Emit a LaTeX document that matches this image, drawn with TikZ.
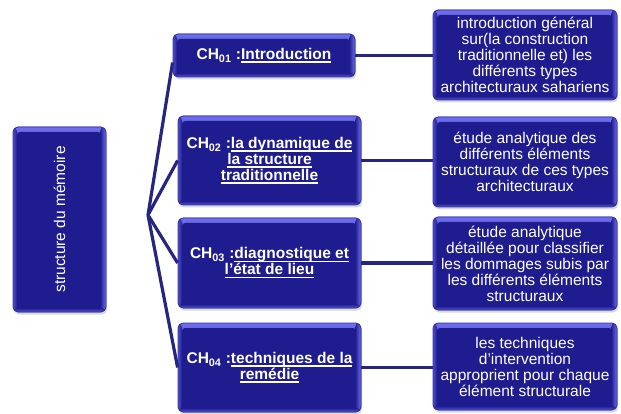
\documentclass[tikz,border=0pt]{standalone}
\usepackage{fontspec}
\setmainfont{Liberation Sans}
\usepackage{graphicx}
\usetikzlibrary{calc}
\definecolor{boxmid}{RGB}{30,28,142}
\definecolor{boxlight}{RGB}{110,110,236}
\definecolor{boxrim}{RGB}{50,50,170}
\definecolor{linecol}{RGB}{38,38,128}
\newcommand\uln[1]{\setbox0\hbox{#1}\rlap{\rule[-3.4pt]{\wd0}{1.6pt}}\box0}
\newcommand\chap[1]{CH\textsubscript{#1}}
\newcommand\txtsize{\fontsize{15.5}{16}\selectfont}
\tikzset{
  glossy/.style={rounded corners=5pt, fill=boxmid, draw=boxrim, line width=0.8pt,
    text=white, inner sep=0pt, align=center, font=\txtsize,
    preaction={fill=black!60, opacity=0.25, transform canvas={xshift=1.2pt,yshift=-2.5pt}},
    path picture={
      \fill[top color=boxlight, bottom color=boxmid]
        (path picture bounding box.north west) rectangle ([yshift=-10pt]path picture bounding box.north east);
      \fill[left color=boxmid, right color=boxlight]
        ([xshift=-6pt]path picture bounding box.north east) rectangle (path picture bounding box.south east);
      \fill[left color=boxlight!60!boxmid, right color=boxmid]
        (path picture bounding box.north west) rectangle ([xshift=4pt]path picture bounding box.south west);
      \fill[top color=boxmid, bottom color=boxlight!70!boxmid]
        ([yshift=4pt]path picture bounding box.south west) rectangle (path picture bounding box.south east);
      \fill[boxmid, rounded corners=3pt]
        ([shift={(4pt,-5pt)}]path picture bounding box.north west) rectangle ([shift={(-5pt,4pt)}]path picture bounding box.south east);
    }},
  chbox/.style={glossy, font=\txtsize\bfseries},
  conn/.style={draw=linecol, line width=3.2pt},
}
\begin{document}
\begin{tikzpicture}[x=1pt, y=-1pt]
\useasboundingbox (0,0) rectangle (621,414);

\node[glossy, minimum width=93pt, minimum height=185pt] (L) at (59.5,219.5) {\rotatebox{90}{structure du mémoire}};

\node[chbox, minimum width=182pt, minimum height=43pt] (c1) at (264,55.5) {\chap{01} :\uln{Introduction}};
\node[chbox, minimum width=183pt, minimum height=89pt] (c2) at (269.5,160.5) {\chap{02} :\uln{la dynamique de}\\\uln{la structure}\\\uln{traditionnelle}};
\node[chbox, minimum width=183pt, minimum height=90pt] (c3) at (269.5,263) {\chap{03} :\uln{diagnostique et}\\\uln{l’état de lieu}};
\node[chbox, minimum width=183pt, minimum height=89pt] (c4) at (269.5,367.5) {\chap{04} :\uln{techniques de la}\\\uln{remédie}};

\node[glossy, minimum width=184pt, minimum height=90pt] (r1) at (525,55) {introduction général\\sur(la construction\\traditionnelle et) les\\différents types\\architecturaux sahariens};
\node[glossy, minimum width=184pt, minimum height=90pt] (r2) at (525,162) {étude analytique des\\différents éléments\\structuraux de ces types\\architecturaux};
\node[glossy, minimum width=184pt, minimum height=93pt] (r3) at (525,263.5) {étude analytique\\détaillée pour classifier\\les dommages subis par\\les différents éléments\\structuraux};
\node[glossy, minimum width=184pt, minimum height=87pt] (r4) at (525,366.5) {les techniques\\d’intervention\\approprient pour chaque\\élément structurale};

\coordinate (fork) at (148,215);
\draw[conn, line join=round] (fork) -- ([yshift=-7pt]c1.west);
\draw[conn] (fork) -- (c2.west);
\draw[conn] (fork) -- (c3.west);
\draw[conn] (fork) -- (c4.west);

\draw[conn] (c1.east) -- (r1.west |- c1.east);
\draw[conn] (c2.east) -- (r2.west |- c2.east);
\draw[conn] (c3.east) -- (r3.west |- c3.east);
\draw[conn] (c4.east) -- (r4.west |- c4.east);
\end{tikzpicture}
\end{document}
